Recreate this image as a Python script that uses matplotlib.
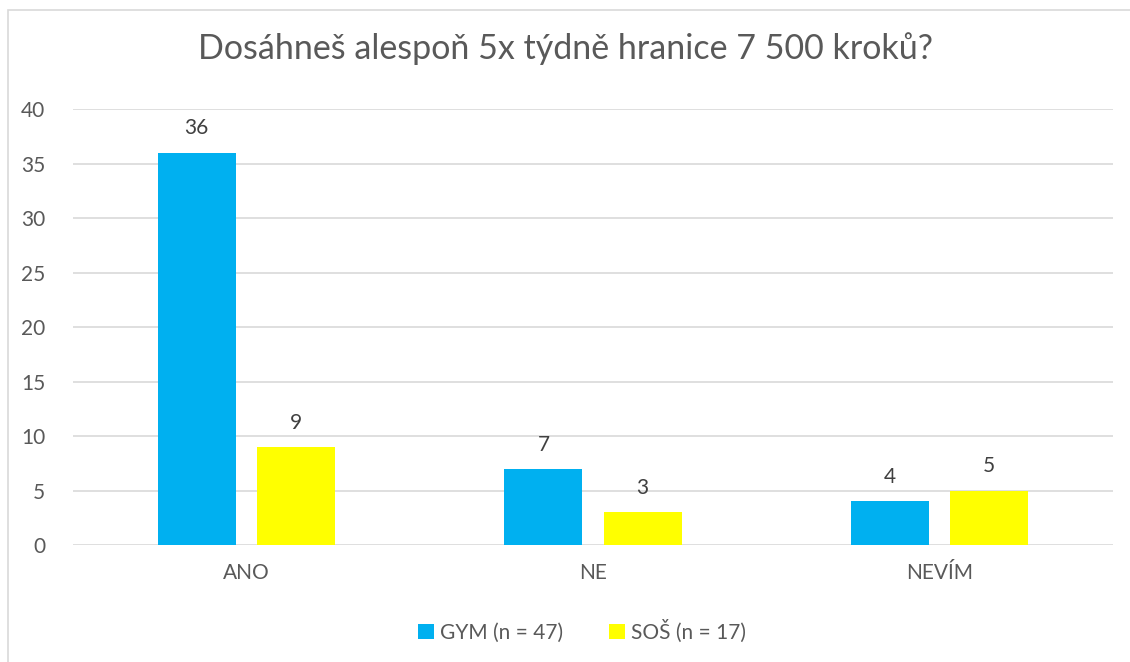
import numpy as np
import matplotlib.pyplot as plt
from matplotlib.patches import Rectangle

plt.rcParams['font.family'] = ['Lato', 'DejaVu Sans']

categories = ["ANO", "NE", "NEVÍM"]
gym = [36, 7, 4]
sos = [9, 3, 5]
labels = ["GYM (n = 47)", "SOŠ (n = 17)"]
colors = ["#00B0F0", "#FFFF00"]
text_col = "#595959"

fig = plt.figure(figsize=(11.3, 6.62), dpi=100)
ax = fig.add_axes([0.0646, 0.1767, 0.9204, 0.6586])

# chart border
fig.patches.append(Rectangle((8 / 1130, -0.1), 1.2, 1 - 10 / 662 + 0.1,
                             transform=fig.transFigure, fill=False,
                             edgecolor="#D9D9D9", linewidth=1.2))

x = np.arange(len(categories))
w = 0.225
off = 0.143
b1 = ax.bar(x - off, gym, w, color=colors[0], label=labels[0], zorder=3)
b2 = ax.bar(x + off, sos, w, color=colors[1], label=labels[1], zorder=3)

for bars in (b1, b2):
    for r in bars:
        ax.text(r.get_x() + r.get_width() / 2, r.get_height() + 1.3,
                f"{int(r.get_height())}", ha="center", va="bottom",
                fontsize=15, color="#404040")

ax.set_xlim(-0.5, 2.5)
ax.set_ylim(0, 40)
ax.set_yticks(range(0, 41, 5))
ax.set_xticks(x)
ax.set_xticklabels(categories)
ax.yaxis.grid(True, color="#D9D9D9", linewidth=1.2, zorder=0)
for s in ax.spines.values():
    s.set_visible(False)
ax.tick_params(axis="both", length=0, labelsize=15, labelcolor=text_col)
ax.tick_params(axis="x", pad=13)
ax.tick_params(axis="y", pad=20)

fig.text(0.5, 0.927, "Dosáhneš alespoň 5x týdně hranice 7 500 kroků?",
         ha="center", va="center", fontsize=24.5, color=text_col)

fig.legend(loc="center", bbox_to_anchor=(0.515, 0.047), ncol=2, frameon=False,
           fontsize=15, labelcolor=text_col, handlelength=0.75, handleheight=0.75,
           handletextpad=0.3, columnspacing=2.2)

fig.savefig("out.png", dpi=100)
